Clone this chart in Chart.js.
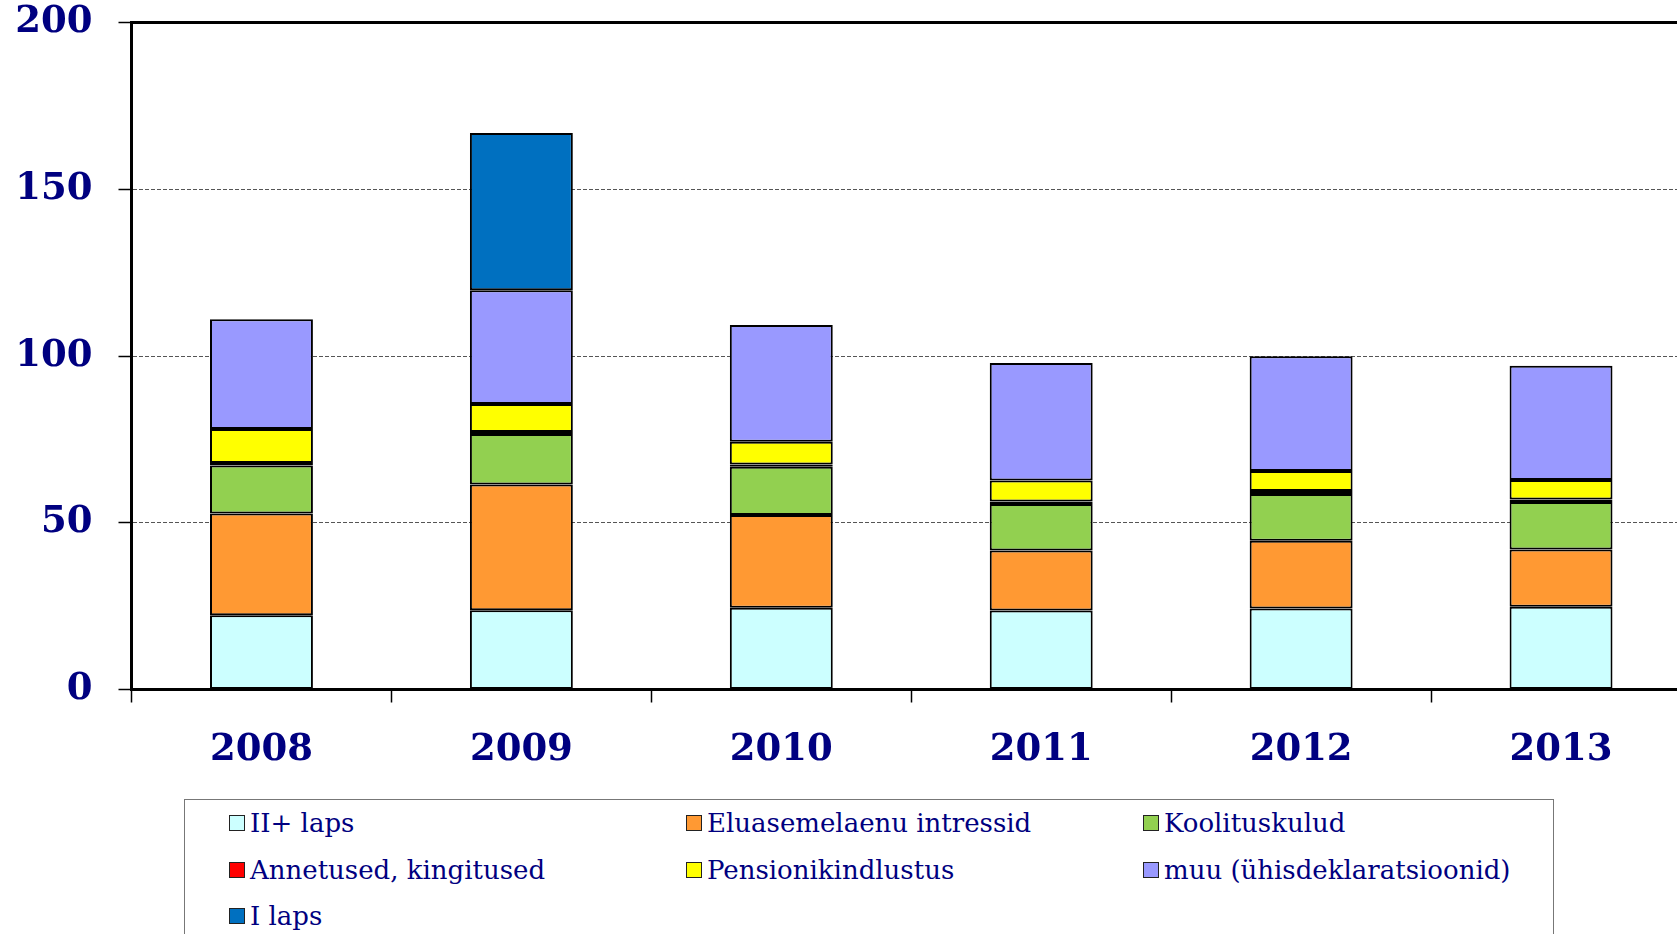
<!DOCTYPE html>
<html>
<head>
<meta charset="utf-8">
<script src="https://cdn.jsdelivr.net/npm/chart.js@4.4.1/dist/chart.umd.min.js"></script>
<style>
  html, body { margin: 0; padding: 0; background: #fff; overflow: hidden; width: 1677px; height: 934px; }
  #wrap { position: absolute; left: 0; top: 0; width: 1700px; height: 780px; }
  #legend {
    position: absolute; left: 184px; top: 799px; width: 1370px; height: 200px;
    border: 1.5px solid #777; box-sizing: border-box;
    display: grid; grid-template-columns: 457px 457px 420px; grid-auto-rows: 46.5px;
    padding: 0 0 0 44px;
    font-family: "DejaVu Serif", serif; font-size: 26px; color: #000080;
  }
  .item { display: flex; align-items: center; white-space: nowrap; }
  .box { width: 14px; height: 14px; border: 1.5px solid #222; margin-right: 5px; flex: none; }
</style>
</head>
<body>
<div id="wrap"><canvas id="chart"></canvas></div>
<div id="legend"></div>
<script>
const years = ['2008', '2009', '2010', '2011', '2012', '2013'];
const iiLaps = [22.3, 23.8, 24.5, 23.7, 24.3, 24.8];
const eluasemelaenu = [30.5, 37.7, 27.8, 18.0, 20.3, 17.2];
const koolituskulud = [14.4, 15.1, 14.5, 13.9, 14.0, 14.2];
const annetused = [0.7, 0.6, 0.7, 0.8, 0.9, 0.8];
const pension = [10.2, 8.4, 6.8, 6.3, 6.0, 5.8];
const muu = [32.9, 34.1, 35.0, 35.2, 34.4, 34.3];
const iLaps = [0, 47.2, 0, 0, 0, 0];
const yTicks = [0, 50, 100, 150, 200];

const navy = '#000080';
const series = [
    { label: 'II+ laps', data: iiLaps, color: '#CCFFFF' },
    { label: 'Eluasemelaenu intressid', data: eluasemelaenu, color: '#FF9933' },
    { label: 'Koolituskulud', data: koolituskulud, color: '#92D050' },
    { label: 'Annetused, kingitused', data: annetused, color: '#FF0000' },
    { label: 'Pensionikindlustus', data: pension, color: '#FFFF00' },
    { label: 'muu (ühisdeklaratsioonid)', data: muu, color: '#9999FF' },
    { label: 'I laps', data: iLaps, color: '#0070C0' }
];

// top frame line of the plot area
const frame = {
    id: 'frame',
    afterDraw(chart) {
        const { ctx, chartArea: a } = chart;
        ctx.save();
        ctx.strokeStyle = '#000';
        ctx.lineWidth = 3;
        ctx.beginPath();
        ctx.moveTo(a.left, a.top);
        ctx.lineTo(a.right + 5, a.top);
        ctx.stroke();
        ctx.restore();
    }
};

const chart = new Chart(document.getElementById('chart'), {
    type: 'bar',
    data: {
        labels: years,
        datasets: series.map(s => ({
            label: s.label, data: s.data, backgroundColor: s.color,
            borderColor: '#000', borderWidth: 2, borderSkipped: false,
            barPercentage: 0.396, categoryPercentage: 1
        }))
    },
    options: {
        responsive: true, maintainAspectRatio: false, animation: false,
        layout: { padding: { top: 22.5, right: 9, left: 0, bottom: 0 } },
        plugins: { legend: { display: false }, tooltip: { enabled: false } },
        scales: {
            x: {
                stacked: true,
                afterFit: s => { s.height = 90.5; s.paddingLeft = 0; s.paddingRight = 0; },
                grid: { drawOnChartArea: false, drawTicks: true, tickLength: 13, tickColor: '#000', tickWidth: 1.5, offset: true },
                border: { color: '#000', width: 3 },
                ticks: { color: navy, padding: 26, font: { family: 'DejaVu Serif', size: 37, weight: 'bold' } }
            },
            y: {
                stacked: true, min: 0, max: 200,
                afterFit: s => { s.width = 131.5; s.paddingTop = 0; s.paddingBottom = 0; },
                afterBuildTicks: s => { s.ticks = yTicks.map(v => ({ value: v })); },
                grid: { color: '#555', lineWidth: 1, drawTicks: true, tickLength: 13, tickColor: '#000', tickWidth: 1.5 },
                border: { color: '#000', width: 3, dash: [4, 2] },
                ticks: { color: navy, padding: 26, font: { family: 'DejaVu Serif', size: 37, weight: 'bold' } }
            }
        }
    },
    plugins: [frame]
});

const legend = document.getElementById('legend');
chart.data.datasets.forEach(d => {
    legend.innerHTML += `<div class="item"><span class="box" style="background:${d.backgroundColor}"></span>${d.label}</div>`;
});
</script>
</body>
</html>
